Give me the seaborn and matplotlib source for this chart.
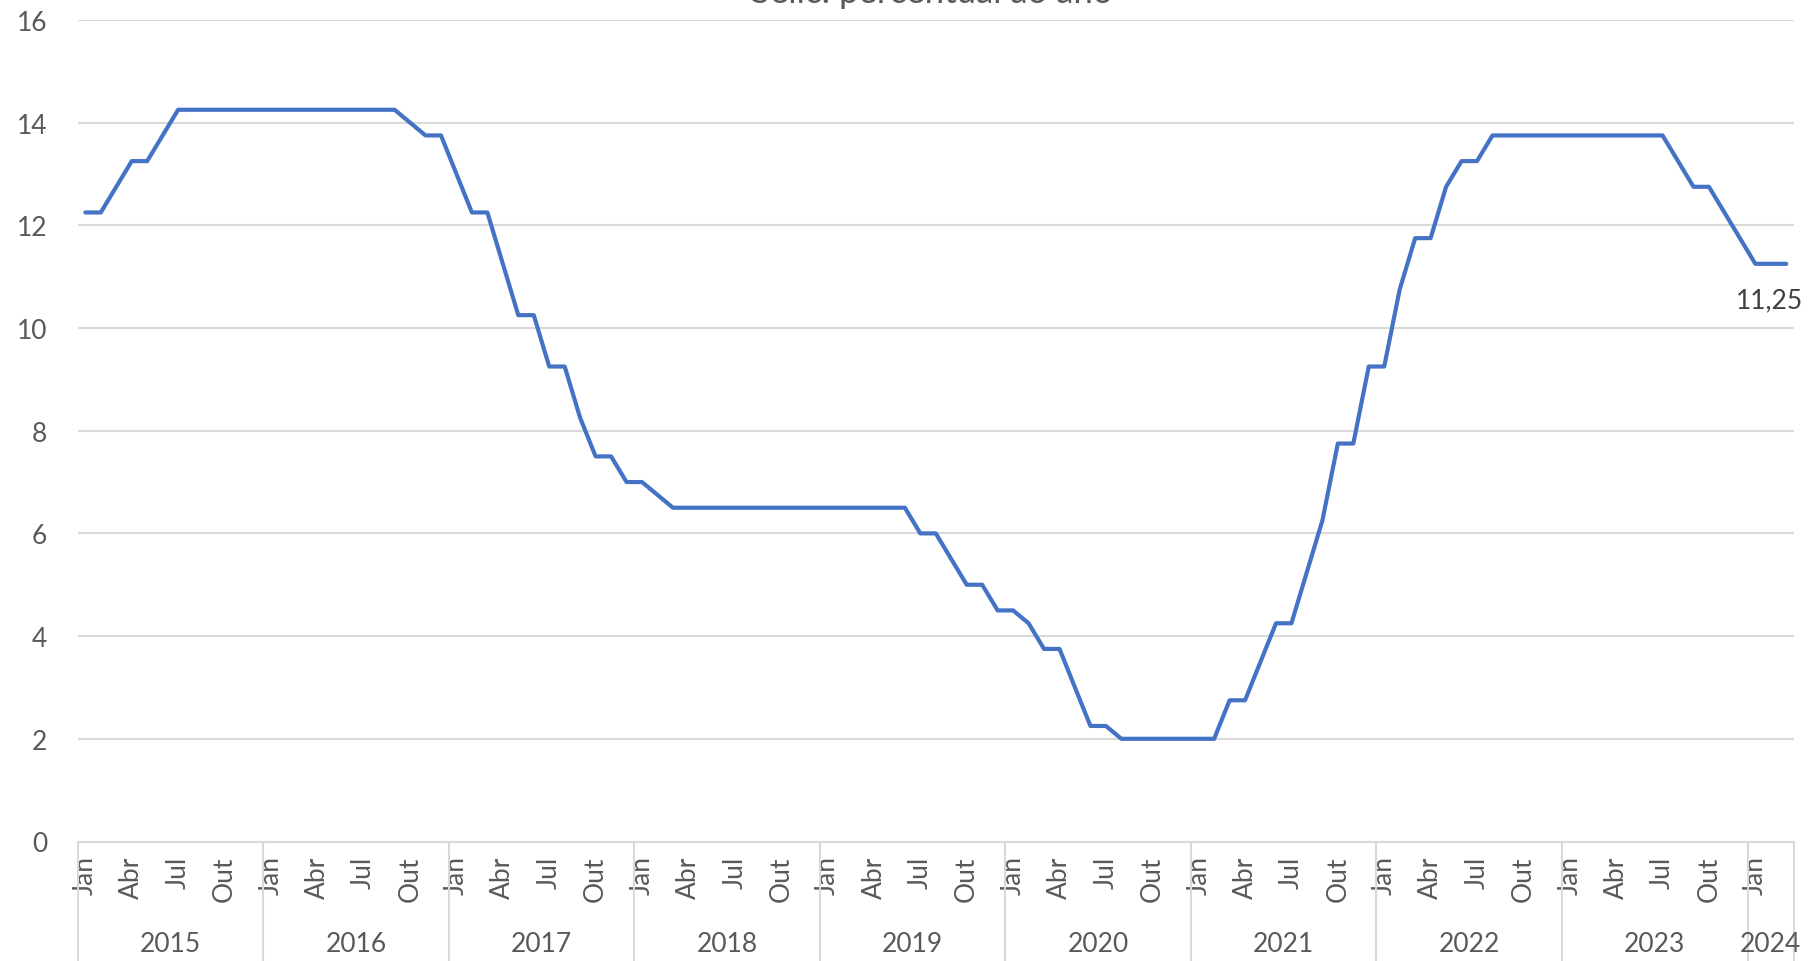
import pandas as pd
import seaborn as sns
import matplotlib.pyplot as plt
import matplotlib.transforms as mtransforms

# Dados (Selic mensal, % a.a.)
anos = ["2015", "2016", "2017", "2018", "2019", "2020", "2021", "2022", "2023", "2024"]
meses_rotulo = ["Jan", "Abr", "Jul", "Out"]

selic_2015 = [12.25, 12.25, 12.75, 13.25, 13.25, 13.75, 14.25, 14.25, 14.25, 14.25, 14.25, 14.25]
selic_2016 = [14.25, 14.25, 14.25, 14.25, 14.25, 14.25, 14.25, 14.25, 14.25, 14.0, 13.75, 13.75]
selic_2017 = [13.0, 12.25, 12.25, 11.25, 10.25, 10.25, 9.25, 9.25, 8.25, 7.5, 7.5, 7.0]
selic_2018 = [7.0, 6.75, 6.5, 6.5, 6.5, 6.5, 6.5, 6.5, 6.5, 6.5, 6.5, 6.5]
selic_2019 = [6.5, 6.5, 6.5, 6.5, 6.5, 6.5, 6.0, 6.0, 5.5, 5.0, 5.0, 4.5]
selic_2020 = [4.5, 4.25, 3.75, 3.75, 3.0, 2.25, 2.25, 2.0, 2.0, 2.0, 2.0, 2.0]
selic_2021 = [2.0, 2.0, 2.75, 2.75, 3.5, 4.25, 4.25, 5.25, 6.25, 7.75, 7.75, 9.25]
selic_2022 = [9.25, 10.75, 11.75, 11.75, 12.75, 13.25, 13.25, 13.75, 13.75, 13.75, 13.75, 13.75]
selic_2023 = [13.75, 13.75, 13.75, 13.75, 13.75, 13.75, 13.75, 13.25, 12.75, 12.75, 12.25, 11.75]
selic_2024 = [11.25, 11.25, 11.25]

por_ano = [selic_2015, selic_2016, selic_2017, selic_2018, selic_2019,
           selic_2020, selic_2021, selic_2022, selic_2023, selic_2024]
selic = [v for lista in por_ano for v in lista]
df = pd.DataFrame({"mes": range(len(selic)), "selic": selic})

cinza_txt = "#595959"
cinza_linha = "#d9d9d9"

sns.set_style("white")
plt.rcParams["font.family"] = ["Lato", "DejaVu Sans"]

W, H = 1817, 962
fig = plt.figure(figsize=(W / 100, H / 100), dpi=100)
left, right, top, bottom = 77.6, 1794, 20.9, 842.5
ax = fig.add_axes([left / W, 1 - bottom / H, (right - left) / W, (bottom - top) / H])

sns.lineplot(data=df, x="mes", y="selic", color="#4472C4", linewidth=3,
             solid_capstyle="round", solid_joinstyle="round", ax=ax, zorder=3)

ax.set_xlim(-0.5, len(selic) - 0.5)
ax.set_ylim(0, 16)
ax.set_yticks(range(0, 17, 2))
ax.yaxis.grid(True, color=cinza_linha, linewidth=1.5)
ax.set_xlabel("")
ax.set_ylabel("")
for lado in ["left", "right", "top"]:
    ax.spines[lado].set_visible(False)
ax.spines["bottom"].set_color(cinza_linha)
ax.spines["bottom"].set_linewidth(1.5)

# rótulos dos meses
pos, rot = [], []
for i, lista in enumerate(por_ano):
    for j, m in enumerate(meses_rotulo):
        if j * 3 < len(lista):
            pos.append(i * 12 + j * 3)
            rot.append(m)
ax.set_xticks(pos)
ax.set_xticklabels(rot)
ax.tick_params(axis="x", length=0, pad=10, labelrotation=90, labelsize=19, colors=cinza_txt)
ax.tick_params(axis="y", length=0, pad=22, labelsize=19, colors=cinza_txt)

# anos e separadores
trans = mtransforms.blended_transform_factory(ax.transData, ax.transAxes)
inicio = 0
for ano, lista in zip(anos, por_ano):
    fim = inicio + len(lista)
    ax.plot([inicio - 0.5, inicio - 0.5], [0, -0.146], transform=trans,
            color=cinza_linha, linewidth=1.5, clip_on=False)
    ax.text((inicio + fim - 1) / 2, -0.124, ano, transform=trans, ha="center", va="center",
            fontsize=19, color=cinza_txt)
    inicio = fim
ax.plot([inicio - 0.5, inicio - 0.5], [0, -0.146], transform=trans,
        color=cinza_linha, linewidth=1.5, clip_on=False)

# rótulo do último valor
ax.annotate(f"{selic[-1]:.2f}".replace(".", ","), (len(selic) - 1, selic[-1]),
            xytext=(-12, -26), textcoords="offset points", ha="center", va="center",
            fontsize=19, color="#404040")

fig.text(0.513, 1 - 3 / H, "Selic: percentual ao ano", ha="center", va="baseline",
         fontsize=25, color=cinza_txt)

fig.savefig("out.png", dpi=100)
